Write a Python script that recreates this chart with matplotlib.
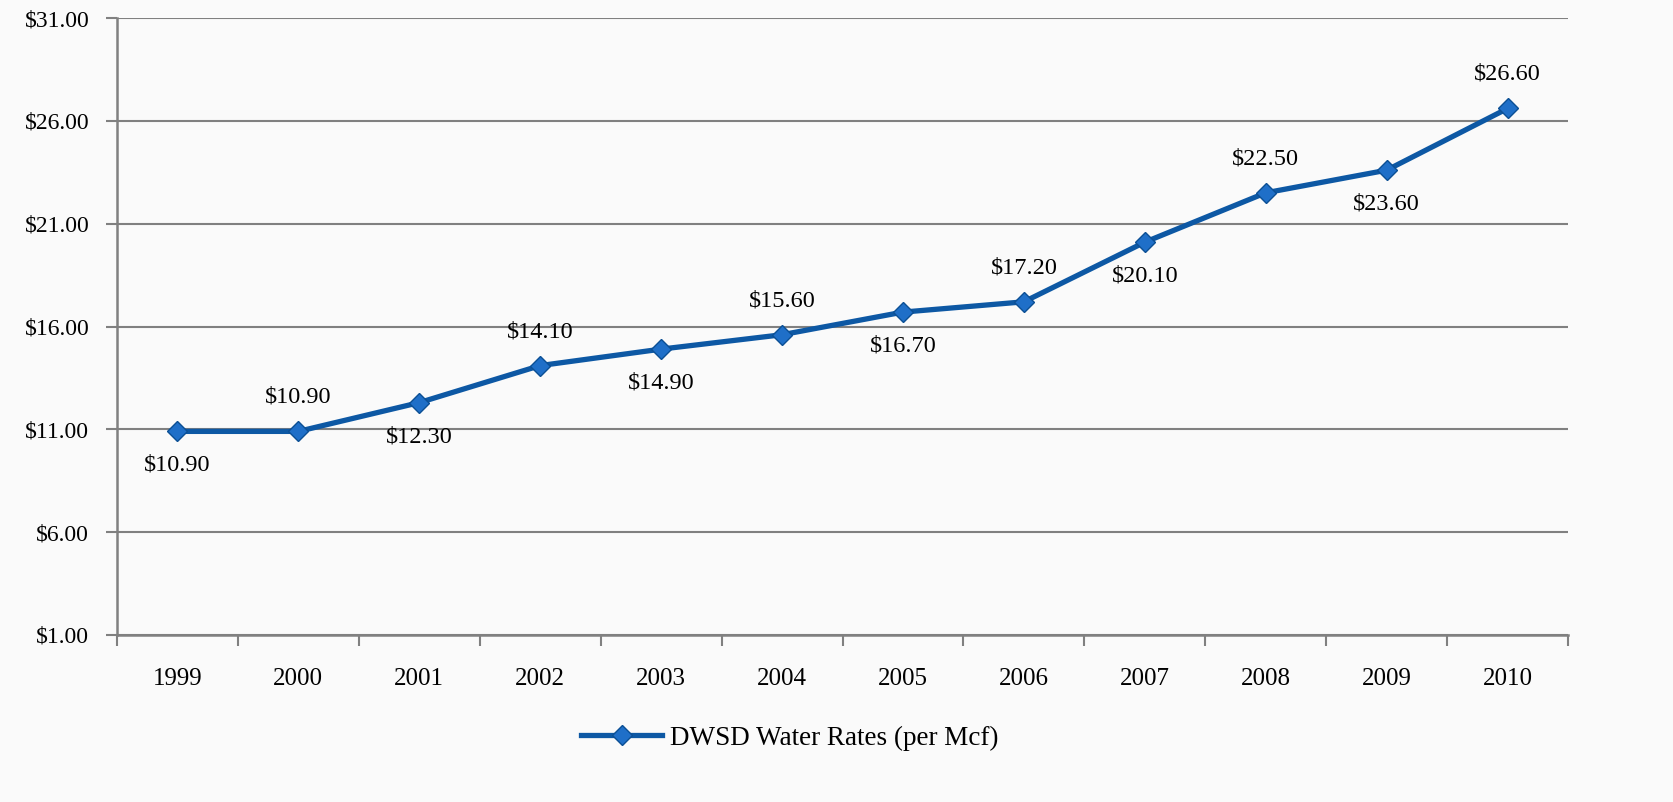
import matplotlib.pyplot as plt
import matplotlib.ticker as mticker

years = ['1999', '2000', '2001', '2002', '2003', '2004',
         '2005', '2006', '2007', '2008', '2009', '2010']
rates = [10.90, 10.90, 12.30, 14.10, 14.90, 15.60,
         16.70, 17.20, 20.10, 22.50, 23.60, 26.60]
# label placement: -1 below the point, +1 above
label_side = [-1, 1, -1, 1, -1, 1, -1, 1, -1, 1, -1, 1]
yticks = [1, 6, 11, 16, 21, 26, 31]

plt.rcParams['font.family'] = ['Liberation Serif', 'DejaVu Serif']

fig = plt.figure(figsize=(16.73, 8.02), dpi=100)
fig.patch.set_facecolor('#fafafa')
ax = fig.add_axes([117 / 1673, 1 - 635 / 802, (1568 - 117) / 1673, (635 - 18) / 802])
ax.set_facecolor('#fafafa')

x = list(range(len(years)))
line, = ax.plot(x, rates, color='#0d58a4', lw=3.8, marker='D', ms=10,
                mfc='#1f6fc8', mec='#0b4f94', mew=1,
                label='DWSD Water Rates (per Mcf)')

for xi, v, s in zip(x, rates, label_side):
    ax.annotate('${:.2f}'.format(v), (xi, v), xytext=(0, 34 * s),
                textcoords='offset pixels', ha='center', va='center',
                fontsize=17.5, color='black')

ax.set_xlim(-0.5, len(years) - 0.5)
ax.set_ylim(1, 31)
ax.set_yticks(yticks)
ax.yaxis.set_major_formatter(mticker.FuncFormatter(lambda v, p: '${:.2f}'.format(v)))
ax.set_xticks([i + 0.5 for i in range(-1, len(years))], minor=False)
ax.set_xticklabels([])
ax.set_xticks(x, minor=True)
ax.set_xticklabels(years, minor=True)
ax.tick_params(axis='x', which='major', length=8, color='#808080', width=1.5, direction='out')
ax.tick_params(axis='x', which='minor', length=0, pad=24, labelsize=18)
ax.tick_params(axis='y', length=8, color='#808080', width=1.5, pad=12, labelsize=17)

ax.grid(axis='y', color='#808080', lw=1.5)
ax.set_axisbelow(True)
for side in ['top', 'right']:
    ax.spines[side].set_visible(False)
for side in ['left', 'bottom']:
    ax.spines[side].set_color('#808080')
    ax.spines[side].set_linewidth(1.8)

fig.legend(handles=[line], loc='center', bbox_to_anchor=(790 / 1673, 1 - 738 / 802),
           frameon=False, fontsize=19.5, handlelength=3, handletextpad=0.3)

fig.savefig('out.png', dpi=100, facecolor=fig.get_facecolor())
